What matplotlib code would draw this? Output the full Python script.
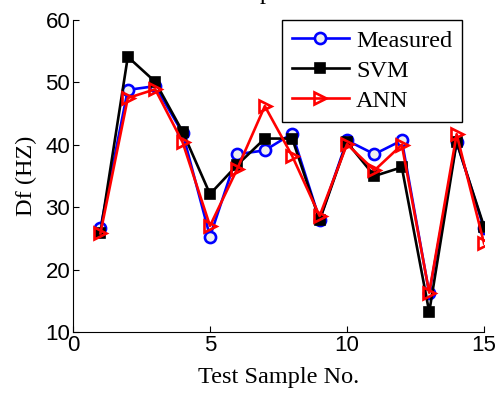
import numpy as np
import matplotlib
matplotlib.use('Agg')
import matplotlib.pyplot as plt

samples = list(range(1, 16))
measured = [26.6, 48.8, 49.4, 41.9, 25.3, 38.5, 39.1, 41.8, 28.0, 40.7, 38.5, 40.7, 16.2, 40.5, 26.6]
svm = [25.9, 54.1, 50.1, 42.1, 32.1, 36.8, 41.0, 41.0, 27.9, 40.4, 35.0, 36.4, 13.2, 40.4, 26.9]
ann = [25.8, 47.5, 48.9, 40.4, 27.0, 36.2, 46.2, 38.2, 28.6, 40.1, 35.9, 40.0, 16.3, 41.7, 24.2]

serif = 'Liberation Serif'
sans = 'Liberation Sans'

fig = plt.figure(figsize=(4.99, 3.94), dpi=100)
ax = fig.add_axes([0.1463, 0.1574, 0.8237, 0.7918])

ax.plot(samples, measured, color='blue', lw=1.9, marker='o', ms=8,
        mfc='#eeeeee', mec='blue', mew=1.9, label='Measured')
ax.plot(samples, svm, color='black', lw=1.9, marker='s', ms=7,
        mfc='black', mec='black', mew=1.2, label='SVM')
ax.plot(samples, ann, color='red', lw=1.9, marker='>', ms=9,
        mfc='none', mec='red', mew=1.9, label='ANN')

ax.set_xlim(0, 15)
ax.set_ylim(10, 60)
ax.set_xticks([0, 5, 10, 15])
ax.set_yticks([10, 20, 30, 40, 50, 60])
ax.spines['top'].set_visible(False)
ax.spines['right'].set_visible(False)
ax.tick_params(direction='in', length=4, width=0.8, labelsize=16, pad=2)
for lab in ax.get_xticklabels() + ax.get_yticklabels():
    lab.set_family(sans)

ax.set_xlabel('Test Sample No.', family=serif, fontsize=17.5, labelpad=8)
ax.set_ylabel('Df (HZ)', family=serif, fontsize=17.5, labelpad=6)

leg = ax.legend(loc='upper right', bbox_to_anchor=(0.946, 1.0), prop={'family': serif, 'size': 17.5},
                fancybox=False, edgecolor='black', framealpha=1, handlelength=2.35,
                borderpad=0.4, labelspacing=0.33, handletextpad=0.3, borderaxespad=0)
leg.get_frame().set_linewidth(1.0)

fig.text(272 / 499, 1 + 1.0 / 394, 'Comparison', family=serif, fontsize=17.5,
         ha='center', va='baseline')

fig.savefig('out.png', dpi=100)
